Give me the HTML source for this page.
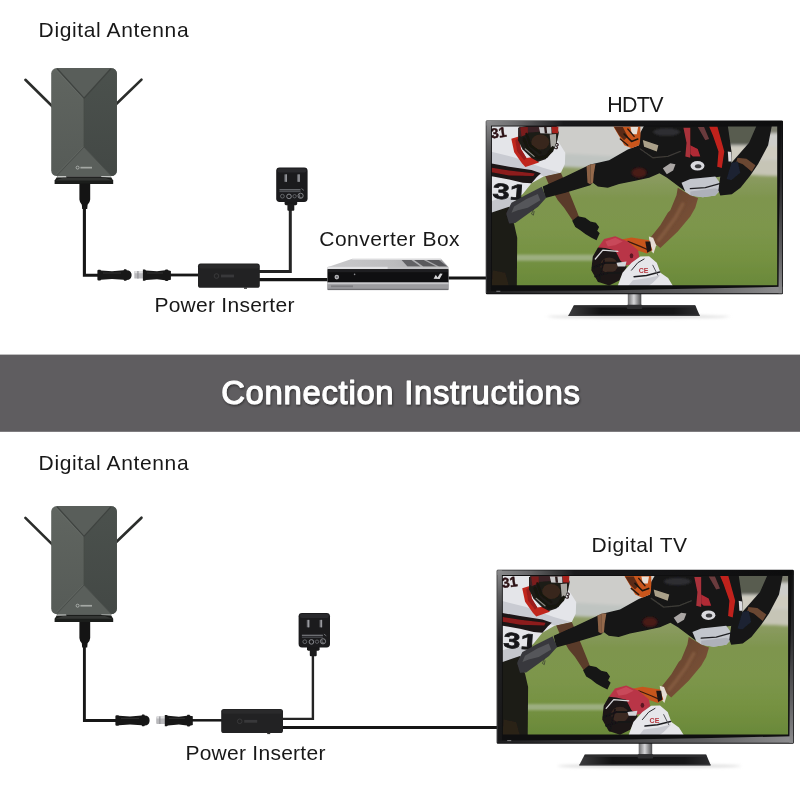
<!DOCTYPE html>
<html lang="en">
<head>
<meta charset="utf-8">
<title>Connection Instructions</title>
<style>
html,body{margin:0;padding:0;background:#fff;overflow:hidden}
svg{display:block}
</style>
</head>
<body>
<svg width="800" height="800" viewBox="0 0 800 800">
<rect width="800" height="800" fill="#ffffff"/>

<defs>
    <clipPath id="scr"><rect x="490" y="125" width="288" height="161"/></clipPath>
  <linearGradient id="antL" x1="0" y1="0" x2="0" y2="1"><stop offset="0" stop-color="#606560"/><stop offset="1" stop-color="#565b57"/></linearGradient>
  <linearGradient id="antR" x1="0" y1="0" x2="0" y2="1"><stop offset="0" stop-color="#4b514d"/><stop offset="1" stop-color="#434845"/></linearGradient>
  <linearGradient id="grass" x1="0" y1="0" x2="0" y2="1"><stop offset="0.29" stop-color="#8d9c64"/><stop offset="0.45" stop-color="#7e954e"/><stop offset="0.62" stop-color="#7d964c"/><stop offset="0.8" stop-color="#769242"/><stop offset="1" stop-color="#698839"/></linearGradient>
  <linearGradient id="neck" x1="0" y1="0" x2="1" y2="0"><stop offset="0" stop-color="#6a6a6c"/><stop offset="0.45" stop-color="#d6d6d8"/><stop offset="1" stop-color="#4a4a4c"/></linearGradient>
  <linearGradient id="frameT" x1="0" y1="0" x2="1" y2="0"><stop offset="0" stop-color="#8c8c8e"/><stop offset="0.1" stop-color="#6a6a6c"/><stop offset="0.26" stop-color="#1a1a1c"/><stop offset="1" stop-color="#0c0c0d"/></linearGradient>
  <linearGradient id="frameL" x1="0" y1="0" x2="0" y2="1"><stop offset="0" stop-color="#8c8c8e"/><stop offset="0.15" stop-color="#5a5a5c"/><stop offset="0.4" stop-color="#222224"/><stop offset="1" stop-color="#161617"/></linearGradient>
  <linearGradient id="standg" x1="0" y1="0" x2="1" y2="0"><stop offset="0" stop-color="#3c3c3e"/><stop offset="0.25" stop-color="#121213"/><stop offset="0.8" stop-color="#161617"/><stop offset="1" stop-color="#2c2c2e"/></linearGradient>
  <linearGradient id="frameB" x1="0" y1="0" x2="1" y2="0"><stop offset="0" stop-color="#1c1c1d"/><stop offset="0.3" stop-color="#3a3a3c"/><stop offset="0.7" stop-color="#606062"/><stop offset="1" stop-color="#8e8e90"/></linearGradient>
  <linearGradient id="frameR" x1="0" y1="0" x2="0" y2="1"><stop offset="0" stop-color="#101011"/><stop offset="0.35" stop-color="#2a2a2c"/><stop offset="0.75" stop-color="#5e5e60"/><stop offset="1" stop-color="#8a8a8c"/></linearGradient>
  <linearGradient id="cbtop" x1="0" y1="0" x2="1" y2="0"><stop offset="0" stop-color="#c9c9cb"/><stop offset="0.55" stop-color="#bcbcbe"/><stop offset="1" stop-color="#9c9c9f"/></linearGradient>
  <linearGradient id="skin" x1="0" y1="0" x2="1" y2="1"><stop offset="0" stop-color="#5e3d2a"/><stop offset="1" stop-color="#83593d"/></linearGradient>
  <filter id="soft" x="0" y="0" width="100%" height="100%"><feGaussianBlur stdDeviation="0.45"/></filter>
  <filter id="b1" x="-20%" y="-200%" width="140%" height="500%"><feGaussianBlur stdDeviation="1.2"/></filter>
  <filter id="b2" x="-20%" y="-200%" width="140%" height="500%"><feGaussianBlur stdDeviation="1.5"/></filter>
  <filter id="b3" x="-30%" y="-50%" width="160%" height="200%"><feGaussianBlur stdDeviation="3"/></filter>
  <filter id="ts" x="-5%" y="-30%" width="110%" height="180%"><feDropShadow dx="0.8" dy="1.3" stdDeviation="1.2" flood-color="#000" flood-opacity="0.5"/></filter>
  
<g id="antenna">
  <line x1="25.4" y1="79.8" x2="53" y2="107" stroke="#2b2d2b" stroke-width="2.6" stroke-linecap="round"/>
  <line x1="141.5" y1="79.6" x2="115" y2="105.2" stroke="#2b2d2b" stroke-width="2.6" stroke-linecap="round"/>
  <path d="M54.6,184 L54.6,180.6 L57.5,176.2 L110.5,176.2 L113.2,180.6 L113.2,184 Z" fill="#1b1d1b"/>
  <path d="M56.4,177.6 L58,176 L66,176 L66.5,177.4 Z" fill="#c4c6c4"/>
  <path d="M101,177 L101.6,175.8 L110.4,175.8 L112,177.4 Z" fill="#c4c6c4"/>
  <path d="M55.4,180.6 L63,177.8 L105,177.8 L112.6,180.6 Z" fill="#343634"/>
  <rect x="51.2" y="68.0" width="65.7" height="108.1" rx="5.6" fill="url(#antL)"/>
  <path d="M84.0,98.0 L111.4,68.0 H111.3 A5.6,5.6 0 0 1 116.9,73.6 V170.5 A5.6,5.6 0 0 1 111.3,176.1 H111.4 L84.0,147.0 Z" fill="url(#antR)"/>
  <polygon points="56.6,68.0 111.4,68.0 84.0,98.0" fill="#595e5a"/>
  <polygon points="56.6,176.1 111.4,176.1 84.0,147.0" fill="#5a5f5b"/>
  <polyline points="57.2,68.8 84.0,98.3 110.80000000000001,68.8" fill="none" stroke="#3f4340" stroke-width="1.3"/>
  <polyline points="57.2,175.29999999999998 84.0,147.0 110.80000000000001,175.29999999999998" fill="none" stroke="#484d49" stroke-width="0.9"/>
  <line x1="84.0" y1="98.0" x2="84.0" y2="147.0" stroke="#474b48" stroke-width="0.8"/>
  <polyline points="56.0,69.6 83.0,98.6" fill="none" stroke="#6c716d" stroke-width="0.7" opacity="0.8"/>
  <polyline points="56.2,174.5 83.2,146.6" fill="none" stroke="#6a6f6b" stroke-width="0.6" opacity="0.7"/>
  <circle cx="77.6" cy="167.6" r="1.5" fill="none" stroke="#c3c6c3" stroke-width="0.7"/>
  <rect x="80.4" y="166.8" width="11.6" height="1.7" fill="#a4a8a4"/>
</g>

<g id="inserter">
  <rect x="198" y="263.6" width="61.8" height="24.2" rx="2.6" fill="#222223"/>
  <rect x="199" y="264.4" width="60" height="4" rx="2" fill="#2a2a2b"/>
  <rect x="244" y="287.4" width="3" height="1.4" fill="#333"/>
  <circle cx="216.5" cy="276" r="2.3" fill="none" stroke="#3d3d3f" stroke-width="0.8"/>
  <rect x="221" y="274.6" width="13" height="2.8" fill="#38383a"/>
</g>

<g id="adapter">
  <rect x="284.6" y="200" width="12.6" height="5.2" rx="1.4" fill="#19191a"/>
  <rect x="287.4" y="204" width="6.9" height="6.8" rx="1" fill="#1c1c1d"/>
  <rect x="276.2" y="167.4" width="31.4" height="34.6" rx="3.4" fill="#1b1b1d"/>
  <rect x="277.4" y="168.4" width="29" height="4" rx="2" fill="#29292c"/>
  <rect x="284.4" y="174.4" width="2.5" height="7.4" fill="#6e6f74"/>
  <rect x="285.6" y="174.4" width="1.3" height="7.4" fill="#9a9ba0"/>
  <rect x="297.2" y="174.4" width="2.5" height="7.4" fill="#6e6f74"/>
  <rect x="298.4" y="174.4" width="1.3" height="7.4" fill="#9a9ba0"/>
  <rect x="279.5" y="189.2" width="21" height="1.2" fill="#77797e"/>
  <rect x="279.5" y="191.2" width="21" height="0.9" fill="#595b60"/>
  <path d="M301.5,188.6 l2.4,1.8" stroke="#8a8c91" stroke-width="0.7" fill="none"/>
  <circle cx="282.4" cy="196.2" r="1.9" fill="none" stroke="#808287" stroke-width="0.7"/>
  <circle cx="289" cy="196.4" r="2.3" fill="none" stroke="#a0a2a7" stroke-width="0.8"/>
  <circle cx="294.6" cy="196.2" r="1.7" fill="none" stroke="#74767b" stroke-width="0.7"/>
  <circle cx="300.6" cy="195.8" r="2.6" fill="none" stroke="#9a9ca1" stroke-width="0.8"/>
  <path d="M299.6,194.4 v3 h2" stroke="#9a9ca1" stroke-width="0.6" fill="none"/>
</g>

<g id="conn1">
  <path d="M97.4,270.8 Q97.4,269.8 98.6,269.8 L100.4,269.8 L101,270.4 L112,271.2 L123.6,270.2 L124.2,269.2 L126.2,269.2 L126.8,270.2 L128.6,270.4 Q131.6,271.6 131.6,275 Q131.6,278.4 128.6,279.8 L126.8,280 L126.2,280.8 L124.2,280.8 L123.6,279.8 L112,279 L101,279.8 L100.4,280.4 L98.6,280.4 Q97.4,280.4 97.4,279.4 Z" fill="#171717"/>
  <rect x="103" y="272.4" width="18" height="1.2" fill="#2c2c2c"/>
</g>
<g id="conn2">
  <rect x="134.3" y="271" width="9.2" height="7.6" rx="0.9" fill="#b9b9bc"/>
  <rect x="134.3" y="271" width="9.2" height="2.2" rx="0.9" fill="#dededf"/>
  <rect x="137.4" y="271" width="1.1" height="7.6" fill="#8f8f93"/>
  <path d="M142.9,269.6 L145,269.6 L146,270.4 L157,271.3 L165,270.3 L165.6,269.4 L167.6,269.4 L168.2,270.3 L170.9,270.9 L170.9,279.7 L168.2,280.3 L167.6,281 L165.6,281 L165,280.2 L157,279.2 L146,280 L145,280.8 L142.9,280.8 Z" fill="#171717"/>
  <rect x="147" y="272.4" width="16" height="1.2" fill="#2c2c2c"/>
</g>

<g id="pic" filter="url(#soft)">
  <rect x="490" y="125" width="290" height="162" fill="url(#grass)"/>
  <g filter="url(#b2)">
  <polygon points="480,115 790,115 790,176.5 690,172 560,166.5 480,164" fill="#cdcdca"/>
  <polygon points="480,152 560,153 650,158 650,168.5 560,166.5 480,164" fill="#bfc4c1"/>
  <polygon points="650,156 790,160 790,176.5 690,172 650,170" fill="#c6c5b6"/>
  <rect x="718" y="115" width="46" height="30" fill="#585b50"/>
  <rect x="764" y="115" width="20" height="18" fill="#7d7e70"/>
  <rect x="700" y="146" width="90" height="12" fill="#cfccc0"/>
  </g>
  <rect x="514" y="254.4" width="84" height="6.2" fill="#b4c0a6" opacity="0.62" filter="url(#b1)"/>
  <polygon points="490,125 518.8,125 518.8,135 557.5,140.6 565,152.5 564.6,163.8 560.6,172.5 543.8,176 531.2,183.1 522.5,193.8 508.8,206.9 490,213.2" fill="#e4e5e9"/>
  <polygon points="490,151.2 515,157.5 542.5,167.5 560,172.5 543.8,176 531.2,172.5 508.8,167.5 490,163.1" fill="#c9cbd2"/>
  <polygon points="490,201.2 505,196.2 516.2,198.8 508.8,206.9 490,213.2" fill="#c4c6cc"/>
  <polygon points="490,163.1 508.8,166.5 531.2,169.8 540.6,173.1 536.5,176.9 531.2,183.1 522.5,182.5 508.8,179.2 490,175.8" fill="#1b1315"/>
  <polygon points="490,167.2 508.8,170.2 534.4,173.2 533.1,175.8 508.8,175.2 490,171.8" fill="#8c1c1c"/>
  <text x="492.5" y="199.2" font-family="'Liberation Sans', Arial, sans-serif" font-weight="700" font-size="22" textLength="34" lengthAdjust="spacingAndGlyphs" fill="#17181a" stroke="#17181a" stroke-width="0.7" transform="rotate(4 510 190)">31</text>
  <text x="490.5" y="137.4" font-family="'Liberation Sans', Arial, sans-serif" font-weight="700" font-size="14" fill="#2c1214" stroke="#2c1214" stroke-width="0.5" transform="rotate(-8 498 132)">31</text>
  <text x="553.6" y="149" font-family="'Liberation Sans', Arial, sans-serif" font-weight="700" font-size="9" fill="#2a1a1c" transform="rotate(18 556 146)">3</text>
  <polygon points="511,138.6 513.9,152.1 521.8,163.4 525.1,166.8 538.6,162.2 535.2,156.6 526.2,157.8 520.6,148.8 518.4,136.4" fill="#c0261f"/>
  <polygon points="515,140 518.4,137.5 520.6,148.8 526.2,157.8 523.8,160 516.9,151.2" fill="#9a1f1a"/>
  <polygon points="517.8,127.5 527.5,125.6 556.2,125.6 558.5,132.5 556.5,142.5 552.8,151.2 545.2,159 537.8,161.5 531.2,157.8 522.2,149 517.8,140" fill="#1d1a17"/>
  <polygon points="519,126.5 552.5,126.2 552.2,132.5 540,131.5 526.5,132.5 520.8,136.9 518.2,135" fill="#3a2426"/>
  <polygon points="538.6,127 551,126.8 551.2,133.5 540,133" fill="#c9c9cb"/>
  <polygon points="551.2,126.2 558.1,126.2 557.8,133 552,133" fill="#a8201f"/>
  <polygon points="520,127 527.5,126.8 527.5,133.8 521.2,136.2" fill="#7a1c1c"/>
  <polygon points="543.8,126.8 546.2,126.8 546.9,133.2 544.5,133.2" fill="#2a1a1a"/>
  <ellipse cx="540" cy="141.9" rx="9" ry="7.5" fill="#38271b"/>
  <polygon points="549.4,134.4 555.8,133.8 555.8,142.5 553.1,149.4 550.6,147.5" fill="#a9a7a2"/>
  <polyline points="523.8,138.8 527.5,148.8 537.5,157.5 546.2,156.2 552.5,147.5" fill="none" stroke="#15140f" stroke-width="3" stroke-linecap="round" stroke-linejoin="round"/>
  <polyline points="526.2,133.8 530,145 540,152.5" fill="none" stroke="#15140f" stroke-width="2.4" stroke-linecap="round" stroke-linejoin="round"/>
  <polyline points="525,148.8 533.8,156.2" fill="none" stroke="#8a8a84" stroke-width="1.2" stroke-linecap="round" stroke-linejoin="round"/>
  <polygon points="545,176 560.6,172.5 568.1,190 576.2,210 580,220 577.5,217.5 572.5,220.6 563.8,207.5 557.5,200 548.8,185" fill="#5a3b29"/>
  <polygon points="571.9,220.6 577.5,216 585,217.5 590,221.2 595.6,222.5 598.8,226.9 596.9,230.6 599.4,233.1 596.2,240 591.2,237.5 585,233.8 580,230 575,226.9" fill="#151515"/>
  <polygon points="490,212.8 508.8,206.5 510.6,220 507.5,212.5 513.8,223.8 516.9,237.5 516.5,287.5 490,287.5" fill="#1b1a18"/>
  <polygon points="492.5,270 505,272.5 508.8,286.2 491.2,286.2" fill="#2b2119"/>
  <polygon points="542.5,186.2 565,176.2 590,164.4 608.8,160 627.5,149.4 638.8,145 640,132.5 643.8,125.6 690,125.6 727.5,125.6 731.2,151.2 731.2,163.8 721.2,176.2 690,180 684.8,191.1 678.8,186.6 666.8,177.6 659.2,173.1 648.8,177.6 633.8,180.9 618.8,183.9 607.5,187.5 597.5,186.2 592.5,182.5 590,185 565,192.5 545,197.8" fill="#141415"/>
  <polygon points="590,164 595.2,163.8 593.5,173.8 592.8,182.5 590,184" fill="#94694b"/>
  <polygon points="586.2,166 590,164.4 590,184 587.2,182.5" fill="#8a6044"/>
  <ellipse cx="638.8" cy="172.5" rx="7.5" ry="5" fill="#4a1a16" filter="url(#b1)"/>
  <polygon points="506.2,212.5 511.2,202.5 525,195 541.5,186.6 545.9,197.5 537.8,206.5 527.5,213.8 515,222.8 508.8,223.2 506,213.8" fill="#38393c"/>
  <polygon points="513.8,206.2 526.2,198.8 537.5,193.8 540,200 527.5,207.5 517.5,210 511.2,212.5" fill="#55565a"/>
  <polyline points="533.1,209.4 531.2,213.8 533.1,215 533.8,211.2" fill="none" stroke="#2a2a2a" stroke-width="0.6" stroke-linecap="round" stroke-linejoin="round"/>
  <polygon points="613.1,126.2 640,126.2 640.2,138.8 638.8,145 631.2,148.1 624,145 619,136.2" fill="#c9571e"/>
  <polygon points="613.8,126.9 622.5,126.9 627.5,136.2 623.8,140 618.8,135" fill="#5a2a14"/>
  <polygon points="630.2,126.9 637.8,126.9 636.5,134 631.5,134" fill="#e6dfd8"/>
  <polyline points="623.8,133.8 631.2,141.2 637.5,138.8" fill="none" stroke="#1a1410" stroke-width="1.6" stroke-linecap="round" stroke-linejoin="round"/>
  <polyline points="627.5,128.8 633.8,136.2" fill="none" stroke="#2a1810" stroke-width="1.4" stroke-linecap="round" stroke-linejoin="round"/>
  <polyline points="620,138.8 627.5,145" fill="none" stroke="#2a1810" stroke-width="1.4" stroke-linecap="round" stroke-linejoin="round"/>
  <ellipse cx="664.4" cy="138.8" rx="24.4" ry="14" fill="#141414"/>
  <ellipse cx="666.2" cy="131.9" rx="13.8" ry="4" fill="#2f2f31" filter="url(#b1)"/>
  <polygon points="642.5,139.8 658.1,145 656.5,151.2 643.8,146.5" fill="#aaa089"/>
  <polyline points="640,148.8 652.5,157.5 667.5,156.2 680,151.2" fill="none" stroke="#3c3a36" stroke-width="1.4" stroke-linecap="round" stroke-linejoin="round"/>
  <polygon points="662.5,168.1 670,163.1 675.2,164 672.8,170.2 666.5,174" fill="#aaa6a4"/>
  <polygon points="683.1,127.5 690,127.5 690,157.5 685,156.2 686.2,142.5" fill="#a9313a"/>
  <polygon points="690,145 697.5,148.8 700,156.2 692.5,156.2 690,153.8" fill="#b02a35"/>
  <polygon points="708.8,126.2 717.1,126.2 724,151.2 721.5,167.8 716.9,166.5 718.2,151.2 712.5,135" fill="#c1231f"/>
  <polygon points="697.5,126.9 703.8,126.9 708.8,138.8 705,140" fill="#6a3a3c"/>
  <ellipse cx="697.2" cy="165.6" rx="7" ry="4.8" fill="#d9d9dd"/>
  <ellipse cx="697.8" cy="166" rx="3.2" ry="2" fill="#3a3a3e"/>
  <polygon points="727.5,151.2 730.8,151.9 731.2,161.2 728.2,161.2" fill="#dcdce0"/>
  <polyline points="721.2,177.5 730,166.2" fill="none" stroke="#d5d5d9" stroke-width="1.4" stroke-linecap="round" stroke-linejoin="round" stroke-dasharray="1.4 1.6"/>
  <polygon points="681.2,182.5 690,178.8 715,176.2 719.5,182.5 720,190 715,195.2 702.5,197.1 690,195.2 685,191.5" fill="#c3c6cd"/>
  <polyline points="690,188.5 705,187.5 719.4,183.5" fill="none" stroke="#1d1d20" stroke-width="1.2" stroke-linecap="round" stroke-linejoin="round"/>
  <polygon points="690,191.2 715,188.1 719.5,190 715,195.2 702.5,197.1 690,195.2" fill="#aeb1b9"/>
  <polygon points="756.2,125.6 771.5,125.6 767.8,145 757.8,163.8 750.2,175 740.2,187.5 731.5,194 720,195.2 718.1,190 720,176.2 731.2,162.5 740,152.5 748.8,142.5" fill="#151517"/>
  <polygon points="737.2,157.5 746.2,158.5 755.2,165 751.5,171.5 742.5,164 736,161.5" fill="#6b4630"/>
  <polygon points="731.2,162.5 737.5,161.2 740,172.5 731.2,180 726.2,178.8" fill="#1b2230"/>
  <polygon points="677.5,187.5 690,195 697.8,197.8 695,207.5 690,216.2 677.5,231.2 660,247.8 652.5,241.5 650,237.5 660,225 667.5,212.5 670,210 676.2,195" fill="url(#skin)"/>
  <polyline points="682.5,203.8 675,217.5 665,231.2 658.1,240" fill="none" stroke="#94694a" stroke-width="3.2" stroke-linecap="round" stroke-linejoin="round" opacity="0.55" filter="url(#b1)"/>
  <polygon points="648.5,236.2 652.8,237.5 655.9,245 653.2,253.4 650.5,250.2" fill="#e4dcd4"/>
  <polygon points="622.2,239 631.2,237.2 648.8,240 652.1,250 646.5,253.4 637.5,250.2 627.5,245.2 622.9,242.8" fill="#c6561e"/>
  <polyline points="627.5,241.2 640,246.2 648.8,250" fill="none" stroke="#3a1a10" stroke-width="1.2" stroke-linecap="round" stroke-linejoin="round"/>
  <polygon points="645,241.2 650,241.2 651.2,250 646.9,252.5" fill="#1d1715"/>
  <polygon points="592.5,256.2 597.5,247.5 605,242.5 615,237.5 621.2,261.2 626.5,266.5 619,280.2 608.8,285.2 597.5,281.5 591,270" fill="#1c1617"/>
  <polygon points="597.8,247.2 603.8,238.8 615,236 627.5,241.2 637.8,250 639,256.5 631.5,264 625.2,265.2 620,260.2 615,250.2 605,247.8" fill="#b93546"/>
  <polygon points="605,241.2 615,237.5 622.5,241.2 615,245 607.5,246.2" fill="#c8485a"/>
  <ellipse cx="631.2" cy="255.6" rx="1.8" ry="2.5" fill="#5a1420"/>
  <ellipse cx="608.8" cy="265" rx="8.8" ry="7.8" fill="#3b2921"/>
  <polyline points="595,258.8 602.5,250 617.5,251.2" fill="none" stroke="#d9d9db" stroke-width="1.3" stroke-linecap="round" stroke-linejoin="round"/>
  <polyline points="592.5,267.5 605,262.5 621.2,262.5" fill="none" stroke="#141214" stroke-width="2" stroke-linecap="round" stroke-linejoin="round"/>
  <polyline points="595,276.2 607.5,272.5 620,272.5" fill="none" stroke="#141214" stroke-width="2" stroke-linecap="round" stroke-linejoin="round"/>
  <polyline points="598.8,281.2 601.2,270 603.8,260" fill="none" stroke="#141214" stroke-width="1.6" stroke-linecap="round" stroke-linejoin="round"/>
  <polygon points="616.2,262.5 626.2,261.2 625,266.2 617.5,266.2" fill="#d2d2d6"/>
  <polygon points="617.2,286.2 622.2,272.5 631.2,262.5 640,256.2 648.8,256 656.5,262.5 660.2,272.5 667.8,277.8 673,286.2" fill="#e6e6ea"/>
  <polygon points="627.5,286.2 632.5,280 646.2,278.1 660,275 652.5,282.5 647.5,286.2" fill="#c9cad1"/>
  <polyline points="633.8,276.5 646.2,275.2 659.4,271.9" fill="none" stroke="#1e1e22" stroke-width="1.5" stroke-linecap="round" stroke-linejoin="round"/>
  <polyline points="631.2,270 637.5,262.5 643.8,258.8" fill="none" stroke="#2a2a30" stroke-width="1" stroke-linecap="round" stroke-linejoin="round"/>
  <polyline points="652.5,265 657.5,275" fill="none" stroke="#55555c" stroke-width="1" stroke-linecap="round" stroke-linejoin="round"/>
  <text x="638.4" y="273.2" font-family="'Liberation Sans', Arial, sans-serif" font-weight="700" font-size="7" fill="#b5353d">CE</text>
</g>

<g id="tv">
  <ellipse cx="638" cy="316.4" rx="92" ry="1.7" fill="#d8d8d8" filter="url(#b2)"/>
  <rect x="627.5" y="293" width="13.5" height="14" fill="url(#neck)"/>
  <path d="M573.5,305 L695,305 L699.5,315.6 L568,315.6 Z" fill="url(#standg)"/>
  <path d="M574,305.2 L694.6,305.2 L695.6,307.4 L573,307.4 Z" fill="#2c2c2e"/>
  <path d="M568.4,314.6 L699.2,314.6 L699.5,315.8 L568,315.8 Z" fill="#3a3a3c"/>
  <rect x="626.5" y="304.6" width="15.5" height="4.2" rx="1" fill="#2e2e30"/>
  <g clip-path="url(#scr)"><use href="#pic"/></g>
  <path fill-rule="evenodd" d="M486.7,120.2 H781.5 Q782.7,120.2 782.7,121.4 V292.9 Q782.7,294.1 781.5,294.1 H486.7 Q485.5,294.1 485.5,292.9 V121.4 Q485.5,120.2 486.7,120.2 Z M491.6,126.4 V285 H776.9 V126.4 Z" fill="#0f0f10"/>
  <rect x="486.1" y="120.8" width="296" height="4.6" fill="url(#frameT)"/>
  <rect x="486.1" y="120.8" width="4.6" height="172" fill="url(#frameL)"/>
  <polygon points="486.5,291 600,290.2 700,288.4 781.9,286.6 781.9,293.1 486.5,293.1" fill="url(#frameB)"/>
  <polygon points="780.6,121 781.9,121 781.9,293.1 778.2,293.1 778.6,230 779.8,170" fill="url(#frameR)"/>
  <rect x="485.5" y="121" width="0.8" height="172" fill="#6a6a6c" opacity="0.6"/>
  <rect x="496" y="290.6" width="4" height="0.9" fill="#8a8a8c"/>
</g>

</defs>


<g id="top">
  <use href="#antenna"/>
  <path d="M79.4,183.6 L90.2,183.6 L90.2,199.5 Q90,202.5 87.6,204.8 L87.2,209 L82.2,209 L81.8,204.8 Q79.6,202.5 79.4,199.5 Z" fill="#141414"/>
  <path d="M84.4,206 V275.3 H98" fill="none" stroke="#171717" stroke-width="3.1" stroke-linejoin="miter"/>
  <use href="#conn1"/>
  <use href="#conn2"/>
  <path d="M170,275 H199" fill="none" stroke="#171717" stroke-width="2.8"/>
  <path d="M259,271.6 H290.3 V209" fill="none" stroke="#242424" stroke-width="3"/>
  <path d="M259,279.6 H329" fill="none" stroke="#151515" stroke-width="3.3"/>
  <use href="#inserter"/>
  <use href="#adapter"/>
  <path d="M448,278 H487" fill="none" stroke="#151515" stroke-width="3"/>
  <g id="cbox">
    <polygon points="327.3,267.2 352.4,258.7 440.8,258.7 448.7,267.2" fill="url(#cbtop)"/>
    <polygon points="401.4,259.8 411,259.8 420.6,266.6 407.5,266.6" fill="#626265"/>
    <polygon points="413.8,259.8 423.2,259.8 436.2,266.6 423.4,266.6" fill="#5a5a5d"/>
    <polygon points="426,259.8 438.6,259.8 447.4,266.6 439,266.6" fill="#56565a"/>
    <polygon points="352.8,259 440.6,259 441.4,259.9 351,259.9" fill="#dcdcde"/>
    <rect x="327.3" y="266.8" width="121.4" height="23.3" rx="1.2" fill="#c2c2c4"/>
    <rect x="327.6" y="266.8" width="60" height="2.6" fill="#e2e2e4"/>
    <rect x="327.5" y="269.2" width="121" height="13.4" fill="#0f0f11"/>
    <rect x="328.1" y="269.2" width="119.9" height="3" fill="#1e1e21"/>
    <rect x="327.3" y="282.6" width="121.4" height="7.5" rx="1" fill="#9c9c9f"/>
    <rect x="327.3" y="282.6" width="121.4" height="1.6" fill="#c8c8ca"/>
    <rect x="327.8" y="288.8" width="120.4" height="1.3" fill="#707073"/>
    <rect x="331" y="285.4" width="22" height="1.8" fill="#7e7e82"/>
    <circle cx="336.8" cy="277.1" r="2.3" fill="#b4b4b7"/>
    <circle cx="336.8" cy="277.1" r="1" fill="#66666a"/>
    <circle cx="354.6" cy="274.4" r="0.8" fill="#8a8a8e"/>
    <path d="M433.6,278.8 l2.2,-4 l1.8,2.8 l2.4,-4 l2.6,0.2 l-3,5.2 z" fill="#d6d6d8"/>
  </g>
  <use href="#tv" transform="translate(0.3,0.2)"/>
</g>

<rect x="0" y="354.6" width="800" height="77.2" fill="#5f5d60"/>

<g id="bottom">
  <use href="#antenna" transform="translate(0,438.1)"/>
  <path d="M79.4,622 L90.2,622 L90.2,637.9 Q90,640.9 87.6,643.2 L87.2,647.4 L82.2,647.4 L81.8,643.2 Q79.6,640.9 79.4,637.9 Z" fill="#141414"/>
  <path d="M84.4,645 V720.5 H116" fill="none" stroke="#171717" stroke-width="2.9"/>
  <use href="#conn1" transform="translate(18,445.4)"/>
  <use href="#conn2" transform="translate(21.9,445.4)"/>
  <path d="M192,720.3 H222" fill="none" stroke="#171717" stroke-width="2.5"/>
  <path d="M282,718.9 H312.9 V654" fill="none" stroke="#242424" stroke-width="2.4"/>
  <path d="M282,727.5 H498" fill="none" stroke="#151515" stroke-width="3"/>
  <use href="#inserter" transform="translate(23.2,445.3)"/>
  <use href="#adapter" transform="translate(22.4,445.5)"/>
  <use href="#tv" transform="translate(11.2,449.6)"/>
</g>


<g font-family="'Liberation Sans', Arial, sans-serif" font-size="21" fill="#181818" opacity="0.999">
  <text x="38.6" y="36.6" textLength="150" lengthAdjust="spacing">Digital Antenna</text>
  <text x="607.2" y="111.8" font-size="21.4" textLength="56.4" lengthAdjust="spacing">HDTV</text>
  <text x="319.2" y="246" textLength="140.4" lengthAdjust="spacing">Converter Box</text>
  <text x="154.4" y="312.1" textLength="140" lengthAdjust="spacing">Power Inserter</text>
  <text x="38.6" y="469.8" textLength="150" lengthAdjust="spacing">Digital Antenna</text>
  <text x="591.6" y="552.4" textLength="95.4" lengthAdjust="spacing">Digital TV</text>
  <text x="185.4" y="760.1" textLength="140" lengthAdjust="spacing">Power Inserter</text>
</g>
<text x="221.2" y="403.6" textLength="358.6" lengthAdjust="spacing" font-family="'Liberation Sans', Arial, sans-serif" font-size="32.8" fill="#ffffff" stroke="#ffffff" stroke-width="1.1" stroke-linejoin="round" filter="url(#ts)">Connection Instructions</text>

</svg>
</body>
</html>
